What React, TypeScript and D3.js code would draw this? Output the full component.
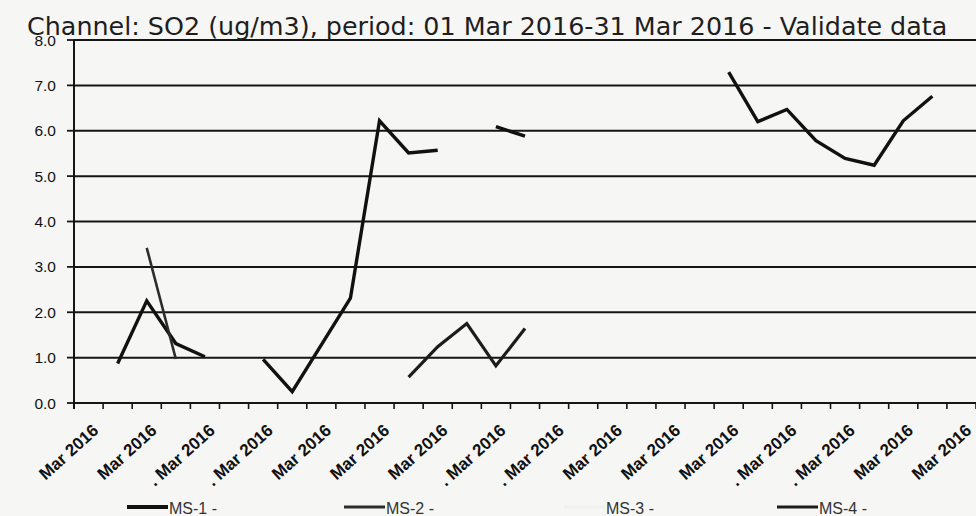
import React from "react";
import * as d3 from "d3";

const days = [1, 2, 3, 4, 5, 6, 7, 8, 9, 10, 11, 12, 13, 14, 15, 16, 17, 18, 19, 20, 21, 22, 23, 24, 25, 26, 27, 28, 29, 30, 31];

// label shown at every other day (days 1,3,5,...,31)
const tickLabels = [
  "Mar 2016", "Mar 2016", ". Mar 2016", ". Mar 2016", "Mar 2016", "Mar 2016", "Mar 2016", ". Mar 2016",
  ". Mar 2016", "Mar 2016", "Mar 2016", "Mar 2016", ". Mar 2016", ". Mar 2016", "Mar 2016", "Mar 2016",
];

const yTicks = [0, 1, 2, 3, 4, 5, 6, 7, 8];

const ms1: (number | null)[] = [
  null, 0.87, 2.25, 1.31, 1.02, null, 0.96, 0.25, 1.28, 2.31, 6.22, 5.51, 5.57, null, 6.09, 5.88,
  null, null, null, null, null, null, 7.29, 6.2, 6.47, 5.78, 5.39, 5.24, 6.22, 6.76, null,
];
const ms2: (number | null)[] = [
  null, null, 3.42, 0.97, null, null, null, null, null, null, null, null, null, null, null, null,
  null, null, null, null, null, null, null, null, null, null, null, null, null, null, null,
];
const ms3: (number | null)[] = [
  null, null, null, null, null, null, null, null, null, null, null, null, null, null, null, null,
  null, null, null, null, null, null, null, null, null, null, null, null, null, null, null,
];
const ms4: (number | null)[] = [
  null, null, null, null, null, null, null, null, null, null, null, 0.57, 1.24, 1.75, 0.82, 1.64,
  null, null, null, null, null, null, null, null, null, null, null, null, null, null, null,
];

const seriesNames = ["MS-1 -", "MS-2 -", "MS-3 -", "MS-4 -"];

const W = 976;
const H = 516;

export default function App() {
  const x = d3.scaleBand<number>().domain(days).range([74, 976]).paddingInner(0).paddingOuter(0);
  const bw = x.bandwidth();
  const cx = (d: number) => (x(d) as number) + bw / 2;
  const y = d3.scaleLinear().domain([0, 8]).range([403, 40]);

  const styles = [
    { data: ms1, color: "#111", width: 3.4 },
    { data: ms2, color: "#2c2c2c", width: 2.6 },
    { data: ms3, color: "#f0f0f0", width: 2 },
    { data: ms4, color: "#1c1c1c", width: 3.2 },
  ];

  const makeLine = (vals: (number | null)[]) =>
    d3
      .line<number>()
      .defined((i) => vals[i] != null)
      .x((i) => cx(days[i]))
      .y((i) => y(vals[i] as number))(d3.range(days.length)) || "";

  const bounds = [...days.map((d) => x(d) as number), 976];
  const labelDays = days.filter((_, i) => i % 2 === 0);

  const legendX = [168, 385, 605, 818];

  return (
    <svg
      width={W}
      height={H}
      style={{ position: "absolute", left: 0, top: 0, background: "#f6f6f4" }}
    >
      <rect x={0} y={0} width={W} height={H} fill="#f6f6f4" />
      {/* gridlines */}
      {yTicks.map((t) => (
        <line key={"g" + t} x1={74} x2={976} y1={y(t)} y2={y(t)} stroke="#151515" strokeWidth={2} />
      ))}
      {/* y axis */}
      <line x1={74} x2={74} y1={y(8)} y2={y(0) + 6} stroke="#151515" strokeWidth={2} />
      {yTicks.map((t) => (
        <g key={"yt" + t}>
          <line x1={67} x2={74} y1={y(t)} y2={y(t)} stroke="#151515" strokeWidth={1.8} />
          <text
            x={56}
            y={y(t)}
            dy="0.36em"
            textAnchor="end"
            fontFamily="'Liberation Sans', Arial, sans-serif"
            fontSize={15.5}
            fill="#111"
          >
            {d3.format(".1f")(t)}
          </text>
        </g>
      ))}
      {/* x ticks */}
      {bounds.map((b, i) => (
        <line key={"xt" + i} x1={b} x2={b} y1={y(0)} y2={y(0) + 6} stroke="#151515" strokeWidth={1.6} />
      ))}
      {labelDays.map((d, i) => (
        <text
          key={"xl" + d}
          transform={`translate(${cx(d) + 11},432) rotate(-42)`}
          textAnchor="end"
          fontFamily="'Liberation Sans', Arial, sans-serif"
          fontWeight="bold"
          fontSize={17}
          fill="#111"
        >
          {tickLabels[i]}
        </text>
      ))}
      {/* series */}
      {styles.map((s, i) => (
        <path
          key={"s" + i}
          d={makeLine(s.data)}
          fill="none"
          stroke={s.color}
          strokeWidth={s.width}
          strokeLinejoin="miter"
        />
      ))}
      {/* title */}
      <text
        x={27}
        y={35}
        fontFamily="'DejaVu Sans', Verdana, sans-serif"
        fontSize={25.4}
        fill="#1e1e1e"
      >
        Channel: SO2 (ug/m3), period: 01 Mar 2016-31 Mar 2016 - Validate data
      </text>
      {/* legend */}
      {seriesNames.map((n, i) => (
        <g key={"lg" + i}>
          <line
            x1={legendX[i] - 41}
            x2={legendX[i]}
            y1={507}
            y2={507}
            stroke={styles[i].color}
            strokeWidth={i === 0 ? 4 : 3}
          />
          <text
            x={legendX[i] + 1}
            y={514}
            fontFamily="'Liberation Sans', Arial, sans-serif"
            fontSize={16}
            fill="#333"
          >
            {n}
          </text>
        </g>
      ))}
    </svg>
  );
}
